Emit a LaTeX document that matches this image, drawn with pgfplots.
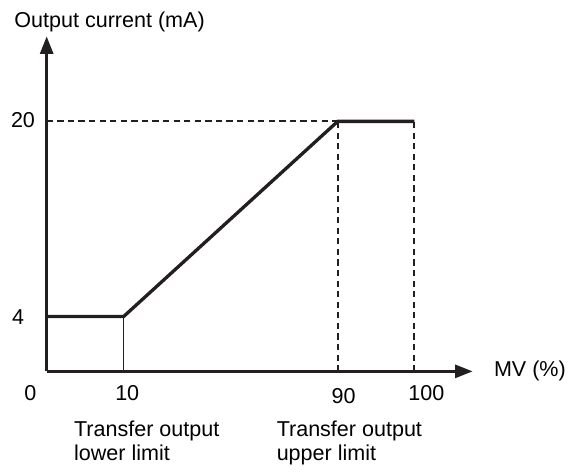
\documentclass[border=0pt]{standalone}
\usepackage{fontspec}
\setmainfont{Liberation Sans}
\usepackage{pgfplots}
\pgfplotsset{compat=1.18}
\usetikzlibrary{arrows.meta}
\definecolor{ink}{HTML}{231F20}

% one unit = one pixel of the reference = 0.5pt
\begin{document}
\fontsize{11}{12}\selectfont
\begin{tikzpicture}
\begin{axis}[
  scale only axis,
  width=217.65pt, height=171.15pt,
  xmin=0, xmax=435.3, ymin=0, ymax=342.3,
  axis lines*=left,
  axis line style={line width=1.7pt, color=ink},
  x axis line style={-{Triangle[length=9pt,width=6.5pt]}},
  y axis line style={-{Triangle[length=9pt,width=6.5pt]}},
  xtick=\empty, ytick=\empty,
  clip=false,
  every node/.style={inner sep=0pt, text=ink, font=\fontsize{11}{12}\selectfont},
]
% guide lines
\addplot[ink, line width=1pt, dash pattern=on 3.2pt off 2.2pt] coordinates {(0,255.3) (297.3,255.3)};
\addplot[ink, line width=1pt, dash pattern=on 3.2pt off 2.2pt] coordinates {(297.3,0) (297.3,255.3)};
\addplot[ink, line width=1pt, dash pattern=on 3.2pt off 2.2pt] coordinates {(375.6,0) (375.6,255.3)};
\addplot[ink, line width=0.6pt] coordinates {(78.6,0) (78.6,56)};
% output characteristic
\addplot[ink, line width=1.7pt, line join=miter] coordinates {(0,56) (78.6,56) (297.3,255.3) (375.6,255.3)};

% tick labels
\node at (axis cs:-16.7,-21.7) {0};
\node at (axis cs:82.3,-21.7) {10};
\node at (axis cs:303.3,-25.7) {90};
\node at (axis cs:387.9,-22.7) {100};
\node at (axis cs:-24.2,256.3) {20};
\node at (axis cs:-29.2,55.3) {4};

% axis titles
\node[anchor=base west] at (axis cs:-40.7,351.3) {Output current (mA)};
\node[anchor=west] at (axis cs:449.3,0) {MV (\%)};

% limit labels
\node[anchor=base west] at (axis cs:20.3,-66.7) {Transfer output};
\node[anchor=base west] at (axis cs:20.3,-90.7) {lower limit};
\node[anchor=base west] at (axis cs:227.3,-66.7) {Transfer output};
\node[anchor=base west] at (axis cs:227.3,-90.7) {upper limit};

% page frame
\path (axis cs:-47.7,-99.7) rectangle (axis cs:525.3,379.3);
\end{axis}
\end{tikzpicture}
\end{document}
